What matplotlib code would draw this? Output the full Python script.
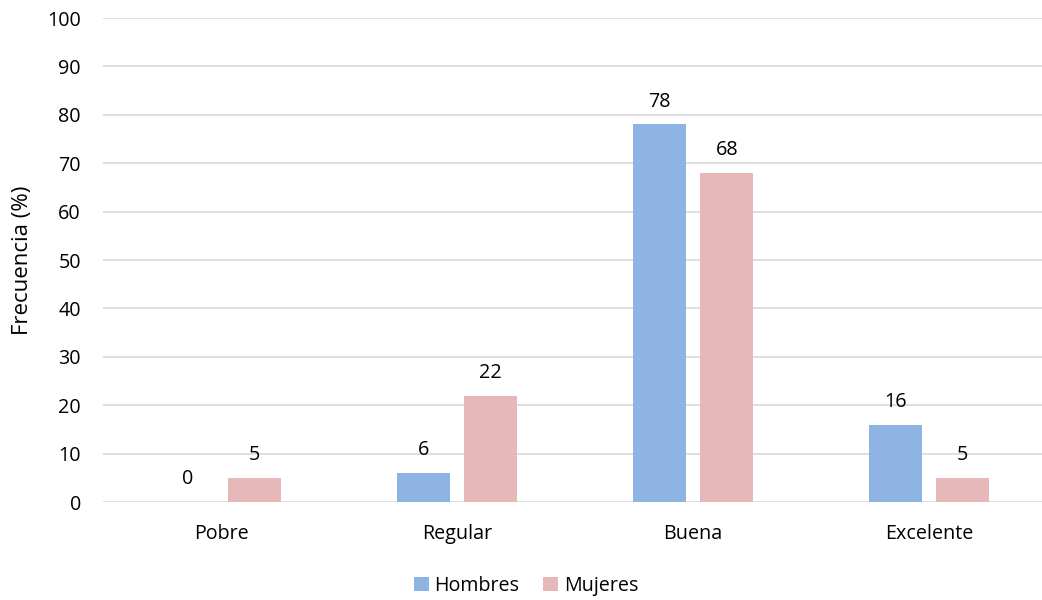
import matplotlib
matplotlib.use("Agg")
import matplotlib.pyplot as plt
import numpy as np

categories = ["Pobre", "Regular", "Buena", "Excelente"]
hombres = [0, 6, 78, 16]
mujeres = [5, 22, 68, 5]
y_ticks = [0, 10, 20, 30, 40, 50, 60, 70, 80, 90, 100]

plt.rcParams["font.family"] = ["Open Sans", "DejaVu Sans"]
fs = 14.2

c_h = "#8EB4E3"
c_m = "#E6B9B8"

fig = plt.figure(figsize=(10.42, 6.0), dpi=100)
ax = fig.add_axes([103 / 1042, 1 - 502 / 600, 944 / 1042, 484 / 600])

x = np.arange(len(categories))
w = 0.225
off = 0.143
bh = ax.bar(x - off, hombres, w, color=c_h, label="Hombres", zorder=3)
bm = ax.bar(x + off, mujeres, w, color=c_m, label="Mujeres", zorder=3)

for bars, vals in ((bh, hombres), (bm, mujeres)):
    for b, v in zip(bars, vals):
        ax.annotate(f"{v}", (b.get_x() + b.get_width() / 2, v),
                    xytext=(0, 9), textcoords="offset points",
                    ha="center", va="bottom", color="#000000", fontsize=fs)

ax.set_xlim(-0.5, len(categories) - 0.5)
ax.set_ylim(0, 100)
ax.set_yticks(y_ticks)
ax.set_xticks(x)
ax.set_xticklabels(categories)
ax.grid(axis="y", color="#D9D9D9", linewidth=1.2, zorder=0)
for s in ax.spines.values():
    s.set_visible(False)
ax.tick_params(axis="both", length=0, colors="#000000", labelsize=fs)
ax.tick_params(axis="x", pad=16)
ax.tick_params(axis="y", pad=16)

fig.text(23 / 1042, 1 - 260 / 600, "Frecuencia (%)", rotation=90,
         ha="center", va="center", fontsize=16)

fig.legend(handles=[bh, bm], loc="center", bbox_to_anchor=(526 / 1042, 1 - 586 / 600),
           ncol=2, frameon=False, fontsize=fs, handlelength=0.75, handleheight=0.75,
           handletextpad=0.3, columnspacing=1.2)

fig.savefig("out.png", dpi=100)
